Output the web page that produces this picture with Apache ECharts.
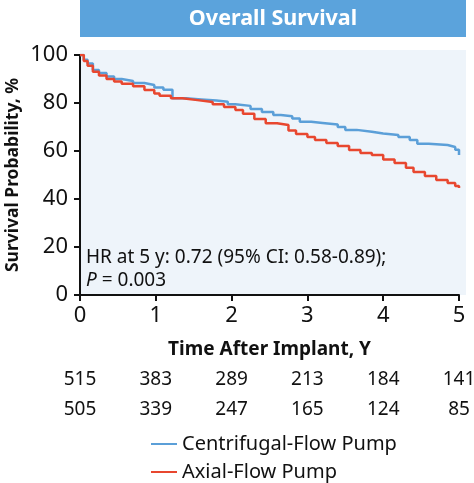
<!DOCTYPE html>
<html>
<head>
<meta charset="utf-8">
<script src="https://cdn.jsdelivr.net/npm/echarts@6/dist/echarts.min.js"></script>
<style>
  html, body { margin: 0; padding: 0; background: #fff; }
  #chart { width: 474px; height: 483px; }
</style>
</head>
<body>
<div id="chart"></div>
<script>
// 数据
var xTicks = [0, 1, 2, 3, 4, 5];
var riskCentrifugal = [515, 383, 289, 213, 184, 141];
var riskAxial = [505, 339, 247, 165, 124, 85];

// 生存曲线 (年, %)
var centrifugalTime = [0, 0.05, 0.1, 0.17, 0.25, 0.35, 0.45, 0.55, 0.7, 0.85, 0.98, 1.1, 1.22, 1.4, 1.6, 1.8, 1.95, 2.05, 2.25, 2.4, 2.55, 2.65, 2.8, 2.9, 3.05, 3.2, 3.4, 3.5, 3.65, 3.85, 4.0, 4.2, 4.35, 4.45, 4.6, 4.85, 4.95, 5.0];
var centrifugalSurv = [100, 98, 96.5, 93.8, 92.5, 91, 90, 89.2, 88.3, 87.5, 86.5, 85.5, 82, 81.5, 81, 80.5, 79.5, 78.8, 77.5, 76.2, 75, 74.5, 73.5, 72.2, 71.7, 71, 70, 68.8, 68, 67.3, 66.7, 65.8, 64.6, 63, 62.5, 61.7, 60.5, 58.3];
var axialTime = [0, 0.05, 0.1, 0.17, 0.25, 0.35, 0.45, 0.55, 0.7, 0.85, 0.98, 1.05, 1.2, 1.35, 1.55, 1.75, 1.9, 2.05, 2.15, 2.3, 2.45, 2.6, 2.75, 2.85, 3.0, 3.1, 3.25, 3.4, 3.55, 3.7, 3.85, 4.0, 4.15, 4.3, 4.4, 4.55, 4.7, 4.85, 4.95, 5.0];
var axialSurv = [100, 97.5, 95.5, 93, 91.5, 90, 89, 88, 87, 85.4, 84, 83, 82, 81.2, 80.4, 79.5, 78.3, 77.1, 75.5, 73.3, 71.6, 70.8, 68.5, 67.1, 65.8, 64.6, 63.3, 62.1, 60.4, 59.2, 58.3, 56.5, 55, 53, 51.3, 49.6, 47.9, 46.7, 45.4, 44.6];

var BLUE = '#5b9fd8';
var RED = '#e8472f';
var FONT = 'Noto Sans';

function pairs(t, v) {
  return t.map(function (x, i) { return [x, v[i]]; });
}

// 风险人数行用的隐藏 x 轴
function riskAxis(values, offset) {
  return {
    type: 'value', min: 0, max: 5, interval: 1, position: 'bottom', offset: offset,
    axisLine: { show: false }, axisTick: { show: false }, splitLine: { show: false },
    axisLabel: {
      color: '#111', fontSize: 19, fontFamily: FONT,
      formatter: function (v) { return values[xTicks.indexOf(v)]; }
    }
  };
}

function legendItem(name, top) {
  return {
    left: 146, top: top, icon: 'rect', itemWidth: 26, itemHeight: 2, itemGap: 8,
    textStyle: { fontSize: 20, fontFamily: FONT, color: '#111' },
    data: [name]
  };
}

var myChart = echarts.init(document.getElementById('chart'));
myChart.setOption({
  animation: false,
  grid: { left: 80, right: 15, top: 55, bottom: 188, containLabel: false, outerBoundsMode: 'none' },
  graphic: [
    { type: 'rect', z: -10, shape: { x: 80, y: 0, width: 386, height: 37 }, style: { fill: '#5ba3dc' } },
    { type: 'text', z: 10, x: 273, y: 19,
      style: { text: 'Overall Survival', fill: '#fff', font: 'bold 21.5px "Noto Sans"', textAlign: 'center', textVerticalAlign: 'middle' } },
    { type: 'rect', z: -10, shape: { x: 80, y: 50, width: 386, height: 245 }, style: { fill: '#eef4fa' } },
    { type: 'text', z: 10, x: 86, y: 258,
      style: { text: 'HR at 5 y: 0.72 (95% CI: 0.58-0.89);', fill: '#111', font: '19px "Noto Sans"', textVerticalAlign: 'middle' } },
    { type: 'text', z: 10, x: 86, y: 281,
      style: { rich: { i: { fontStyle: 'italic', fontSize: 19, fontFamily: FONT, fill: '#111' }, n: { fontSize: 19, fontFamily: FONT, fill: '#111' } },
        text: '{i|P}{n| = 0.003}', textVerticalAlign: 'middle' } }
  ],
  legend: [
    legendItem('Centrifugal-Flow Pump', 429),
    legendItem('Axial-Flow Pump', 457)
  ],
  xAxis: [
    {
      type: 'value', min: 0, max: 5, interval: 1,
      name: 'Time After Implant, Y', nameLocation: 'middle', nameGap: 45,
      nameTextStyle: { fontSize: 19, fontWeight: 'bold', fontFamily: FONT, color: '#111' },
      axisLine: { lineStyle: { color: '#111', width: 2 } },
      axisTick: { length: 6, lineStyle: { color: '#111', width: 2 } },
      splitLine: { show: false },
      axisLabel: { fontSize: 22, fontFamily: FONT, color: '#111', margin: 10 }
    },
    riskAxis(riskCentrifugal, 67),
    riskAxis(riskAxial, 97)
  ],
  yAxis: {
    type: 'value', min: 0, max: 100, interval: 20,
    name: 'Survival Probability, %', nameLocation: 'middle', nameGap: 58, nameMoveOverlap: false,
    nameTextStyle: { fontSize: 17.5, fontWeight: 'bold', fontFamily: FONT, color: '#111' },
    axisLine: { show: true, lineStyle: { color: '#111', width: 2 } },
    axisTick: { show: true, length: 6, lineStyle: { color: '#111', width: 2 } },
    splitLine: { show: false },
    axisLabel: { fontSize: 22, fontFamily: FONT, color: '#111', margin: 12 }
  },
  series: [
    {
      name: 'Centrifugal-Flow Pump', type: 'line', step: 'end', showSymbol: false,
      color: BLUE, lineStyle: { width: 2.5 }, data: pairs(centrifugalTime, centrifugalSurv)
    },
    {
      name: 'Axial-Flow Pump', type: 'line', step: 'end', showSymbol: false,
      color: RED, lineStyle: { width: 2.5 }, data: pairs(axialTime, axialSurv)
    }
  ]
});
</script>
</body>
</html>
